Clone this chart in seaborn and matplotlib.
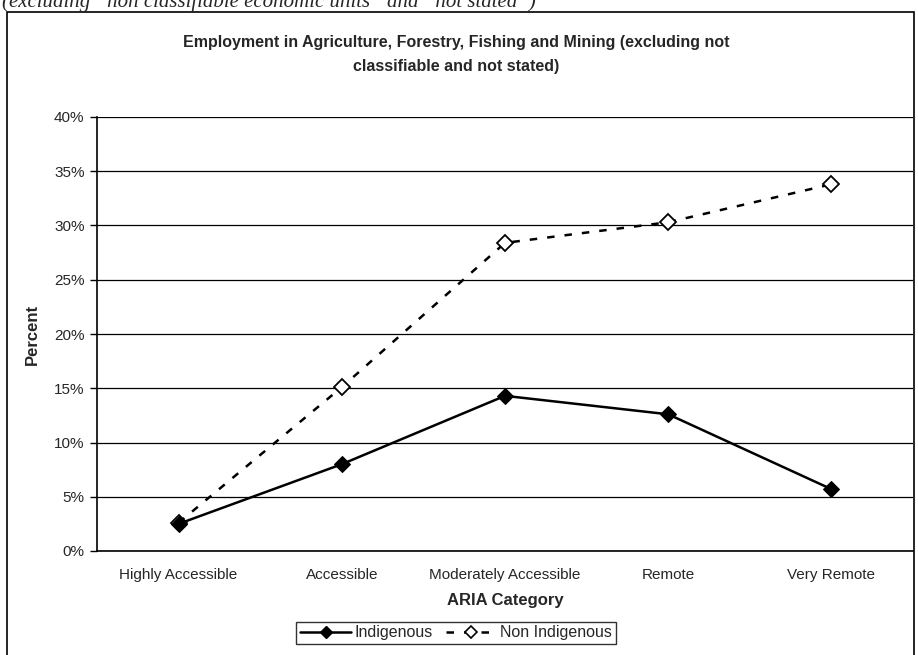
import matplotlib
matplotlib.use("Agg")
import matplotlib.pyplot as plt
import seaborn as sns
import pandas as pd
from matplotlib.patches import Rectangle
from matplotlib.lines import Line2D
from matplotlib.ticker import PercentFormatter, FixedLocator

# data (percent)
categories = ["Highly Accessible", "Accessible", "Moderately Accessible", "Remote", "Very Remote"]
indigenous = [2.5, 8.0, 14.3, 12.6, 5.7]
non_indigenous = [2.6, 15.1, 28.4, 30.3, 33.8]

df = pd.DataFrame({
    "pos": list(range(len(categories))) * 2,
    "value": indigenous + non_indigenous,
    "group": ["Indigenous"] * 5 + ["Non Indigenous"] * 5,
})

sns.set_style("white")
plt.rcParams["font.family"] = ["Liberation Sans", "DejaVu Sans"]

fig = plt.figure(figsize=(9.18, 6.55), dpi=100)
ax = fig.add_axes([97 / 918, 1 - 551 / 655, (913 - 97) / 918, (551 - 117) / 655])

# outer chart border and cut-off caption above it
fig.patches.append(Rectangle((7 / 918, -0.05), (914 - 7) / 918, 1 - 12 / 655 + 0.05,
                             transform=fig.transFigure, fill=False, ec="black", lw=1.2))
fig.text(2 / 918, 1 - 2 / 655, "(excluding \u201cnon classifiable economic units\u201d and \u201cnot stated\u201d)",
         family="Liberation Serif", style="italic", fontsize=15, va="center", ha="left")

sns.lineplot(data=df, x="pos", y="value", hue="group", style="group",
             palette={"Indigenous": "black", "Non Indigenous": "black"},
             dashes={"Indigenous": "", "Non Indigenous": (3, 4)},
             markers={"Indigenous": "D", "Non Indigenous": "D"},
             hue_order=["Non Indigenous", "Indigenous"],
             linewidth=1.8, markersize=8, ax=ax, legend=False)
# hollow markers for Non Indigenous, solid for Indigenous
ni_line, ind_line = ax.lines[0], ax.lines[1]
ni_line.set_markerfacecolor("white")
ni_line.set_markeredgecolor("black")
ni_line.set_markeredgewidth(1.3)
ind_line.set_markerfacecolor("black")
ind_line.set_markeredgecolor("black")

ax.set_xlim(-0.5, 4.5)
ax.set_ylim(0, 40)
ax.yaxis.set_major_locator(FixedLocator(range(0, 41, 5)))
ax.yaxis.set_major_formatter(PercentFormatter(decimals=0))
ax.set_xticks(range(len(categories)))
ax.set_xticklabels(categories)
ax.xaxis.set_minor_locator(FixedLocator([0.5, 1.5, 2.5, 3.5]))
ax.tick_params(axis="x", which="major", length=0, pad=12, labelsize=11)
ax.tick_params(axis="x", which="minor", direction="inout", length=8, width=1, color="black")
ax.tick_params(axis="y", length=5, width=1, color="black", direction="out", left=True, labelsize=11, pad=4)

ax.grid(axis="y", color="black", linewidth=0.9)
ax.set_axisbelow(True)
for s in ["top", "right"]:
    ax.spines[s].set_visible(False)
for s in ["left", "bottom"]:
    ax.spines[s].set_color("black")
    ax.spines[s].set_linewidth(1.2)

ax.set_xlabel("ARIA Category", fontsize=12, fontweight="bold", labelpad=8)
ax.set_ylabel("Percent", fontsize=12, fontweight="bold", labelpad=10)

fig.text(456 / 918, 1 - 42 / 655, "Employment in Agriculture, Forestry, Fishing and Mining (excluding not",
         ha="center", va="center", fontsize=11.5, fontweight="bold")
fig.text(456 / 918, 1 - 66 / 655, "classifiable and not stated)",
         ha="center", va="center", fontsize=11.5, fontweight="bold")

handles = [
    Line2D([], [], color="black", lw=1.8, marker="D", markersize=6, markerfacecolor="black"),
    Line2D([], [], color="black", lw=1.8, ls=(0, (3, 4)), marker="D", markersize=6,
           markerfacecolor="white", markeredgewidth=1.2),
]
leg = fig.legend(handles, ["Indigenous", "Non Indigenous"], loc="center",
                 bbox_to_anchor=(456 / 918, 1 - 633 / 655), ncol=2, frameon=True,
                 fancybox=False, edgecolor="black", fontsize=11.5, handlelength=3.2,
                 handletextpad=0.2, columnspacing=0.8, borderpad=0.25, borderaxespad=0)
leg.get_frame().set_linewidth(1.0)

fig.savefig("out.png", dpi=100)
